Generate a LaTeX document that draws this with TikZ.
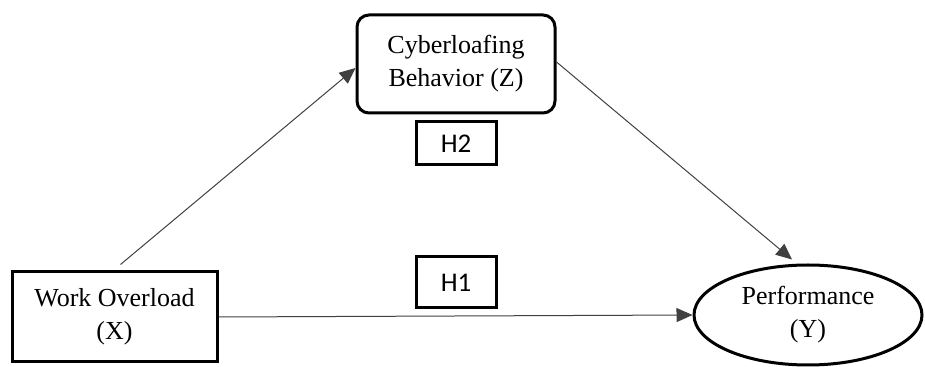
\documentclass[tikz,border=0pt]{standalone}
\usepackage{fontspec}
\setmainfont{Liberation Serif}
\newfontfamily\hfont{Carlito}
\usetikzlibrary{arrows.meta, positioning, shapes, shapes.geometric}

\begin{document}
\begin{tikzpicture}[
  x=0.5pt, y=-0.5pt,
  var/.style={draw, line width=1.5pt, align=center, inner sep=2pt,
              font=\fontsize{13}{16.5}\selectfont},
  hyp/.style={draw, line width=1.5pt, font=\hfont\fontsize{13.5}{15}\selectfont,
              minimum width=40pt},
  arr/.style={-{Triangle[length=8pt, width=7pt]}, line width=0.5pt, black!75},
]
\useasboundingbox (0,0) rectangle (925,367);

%% ---- variables ----
\node[var, minimum width=102.5pt, minimum height=45pt] (wo) at (114.5,317)
  {Work Overload\\(X)};
\node[var, rounded corners=6pt, minimum width=99pt, minimum height=49pt] (cb) at (456,64)
  {Cyberloafing\\Behavior (Z)};
\node[var, ellipse, inner sep=0pt, minimum width=114pt, minimum height=50pt] (perf) at (808,315)
  {Performance\\(Y)};

%% ---- hypothesis labels ----
\node[hyp, minimum height=21.5pt] (h2) at (456,143.5) {H2};
\node[hyp, minimum height=25.5pt] (h1) at (456,282.5) {H1};

%% ---- paths ----
\draw[arr] ([xshift=3pt, yshift=3pt]wo.north) -- ([yshift=-2pt]cb.west);
\draw[arr] ([yshift=1pt]cb.east) -- ([xshift=-8pt, yshift=2pt]perf.north);
\draw[arr] (wo.east) -- (perf.west);

\end{tikzpicture}
\end{document}
